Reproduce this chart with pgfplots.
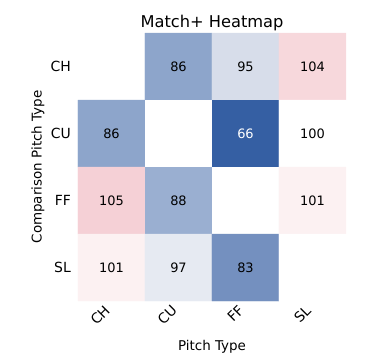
\documentclass[border=0pt]{standalone}
\usepackage{pgfplots}
\pgfplotsset{compat=1.18}
\usepackage{fontspec}
\setmainfont{DejaVu Sans}
\begin{document}
\begin{tikzpicture}
\begin{axis}[
  at={(0,0)}, anchor=south west,
  scale only axis, width=268bp, height=268bp,
  xmin=-0.5, xmax=3.5, ymin=-0.5, ymax=3.5,
  y dir=reverse,
  axis line style={draw=none},
  /pgf/number format/assume math mode=true,
  xtick={0,1,2,3}, ytick={0,1,2,3},
  xticklabels={CH,CU,FF,SL}, yticklabels={CH,CU,FF,SL},
  major tick length=0pt,
  xticklabel style={rotate=45, anchor=north east, font=\fontsize{14}{16}\selectfont, inner sep=0pt, xshift=-7.8bp, yshift=3.5bp},
  yticklabel style={font=\fontsize{14}{16}\selectfont, inner sep=0pt, xshift=-7bp},
  xlabel={Pitch Type}, ylabel={Comparison Pitch Type},
  xlabel style={font=\fontsize{13.5}{15}\selectfont, inner sep=0pt, at={(axis description cs:0.5,0)}, anchor=base, yshift=-49bp},
  ylabel style={font=\fontsize{13.5}{15}\selectfont, inner sep=0pt, at={(axis description cs:0,0.5)}, anchor=center, yshift=40bp},
  title={Match+ Heatmap}, title style={font=\fontsize{16.3}{18}\selectfont, inner sep=0pt, at={(axis description cs:0.5,1)}, anchor=base, yshift=0bp},
  colormap={vl}{rgb255(66)=(53,95,163) rgb255(83)=(116,144,191) rgb255(86)=(141,165,203) rgb255(88)=(154,175,209) rgb255(95)=(215,221,234) rgb255(97)=(230,234,242) rgb255(100)=(255,255,255) rgb255(101)=(252,241,242) rgb255(104)=(247,216,220) rgb255(105)=(245,208,214)},
  point meta min=66, point meta max=105,
  enlargelimits=false, clip=false,
]
\addplot[matrix plot*, mesh/cols=4, point meta=explicit] table[meta=v] {
x y v
0 0 100
1 0 86
2 0 95
3 0 104
0 1 86
1 1 100
2 1 66
3 1 100
0 2 105
1 2 88
2 2 100
3 2 101
0 3 101
1 3 97
2 3 83
3 3 100
};
\addplot[only marks, mark=none, point meta=explicit, nodes near coords={\pgfmathprintnumber{\pgfplotspointmeta}},
  nodes near coords align=center, every node near coord/.style={font=\fontsize{13}{15}\selectfont, text=black, anchor=center}] table[meta=v] {
x y v
1 0 86
2 0 95
3 0 104
0 1 86
3 1 100
0 2 105
1 2 88
3 2 101
0 3 101
1 3 97
2 3 83
};
\addplot[only marks, mark=none, point meta=explicit, nodes near coords={\pgfmathprintnumber{\pgfplotspointmeta}},
  nodes near coords align=center, every node near coord/.style={font=\fontsize{13}{15}\selectfont, text=white, anchor=center}] table[meta=v] {
x y v
2 1 66
};
\end{axis}
\pgfresetboundingbox
\useasboundingbox (-78bp,-56bp) rectangle (290bp,301bp);
\end{tikzpicture}
\end{document}
